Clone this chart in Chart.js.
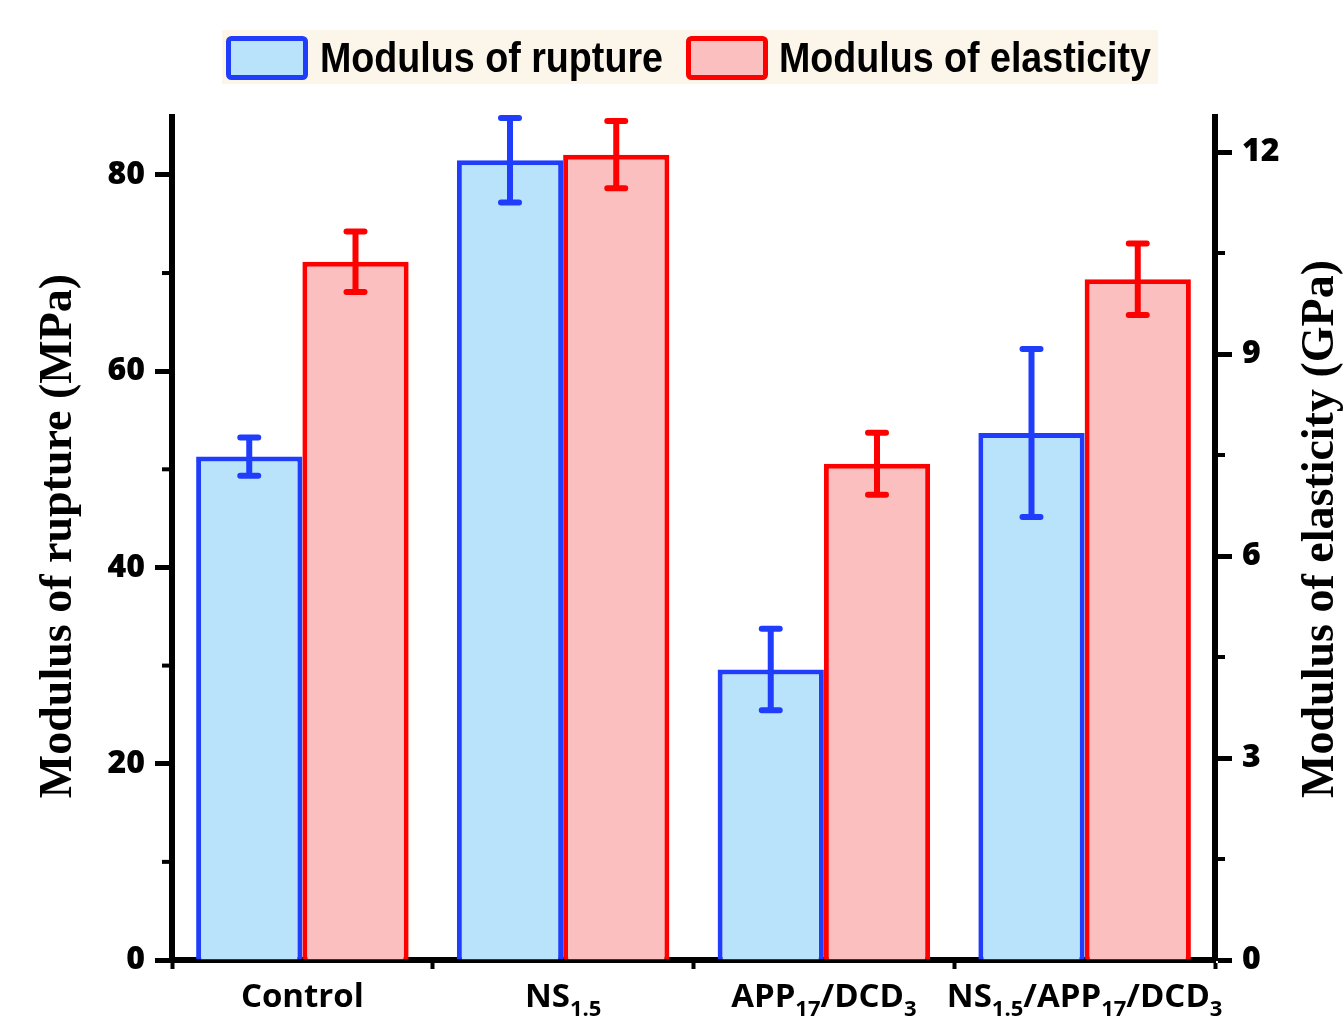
<!DOCTYPE html>
<html><head><meta charset="utf-8">
<script src="https://cdn.jsdelivr.net/npm/chart.js@4.4.0/dist/chart.umd.min.js"></script>
<style>html,body{margin:0;padding:0;background:#fff;overflow:hidden}</style>
</head><body>
<canvas id="c" width="1344" height="1016" style="display:block;width:1344px;height:1016px"></canvas>
<script>
// ---- data ----
const categories = ['Control', 'NS_{1.5}', 'APP_{17}/DCD_{3}', 'NS_{1.5}/APP_{17}/DCD_{3}'];
const seriesNames = ['Modulus of rupture', 'Modulus of elasticity'];
const ruptureValues = [51.3, 81.5, 29.6, 53.7];
const ruptureErrors = [1.95, 4.3, 4.15, 8.55];
const elasticityValues = [10.37, 11.96, 7.37, 10.11];
const elasticityErrors = [0.45, 0.5, 0.46, 0.53];
const leftTicks = [0, 20, 40, 60, 80];
const rightTicks = [0, 3, 6, 9, 12];
const leftTitle = 'Modulus of rupture (MPa)';
const rightTitle = 'Modulus of elasticity (GPa)';

// ---- styles ----
const BLUE = '#1f3dfb', BLUE_FILL = '#b8e3fb';
const RED = '#ff0000', RED_FILL = '#fbbfbf';
const TICK_FONT = { family: 'Open Sans', weight: 800, size: 32 };

function parseLabel(s) {
  const parts = [];
  const re = /_\{([^}]*)\}/g;
  let last = 0, m;
  while ((m = re.exec(s)) !== null) {
    if (m.index > last) parts.push({ t: s.slice(last, m.index), sub: false });
    parts.push({ t: m[1], sub: true });
    last = re.lastIndex;
  }
  if (last < s.length) parts.push({ t: s.slice(last), sub: false });
  return parts;
}

const errorBars = {
  id: 'errorBars',
  afterDatasetsDraw(chart) {
    const ctx = chart.ctx;
    chart.data.datasets.forEach((ds, di) => {
      const meta = chart.getDatasetMeta(di);
      const yScale = chart.scales[ds.yAxisID];
      ctx.save();
      ctx.strokeStyle = ds.borderColor;
      ctx.lineWidth = 6;
      ctx.lineCap = 'round';
      meta.data.forEach((bar, i) => {
        const v = ds.data[i], e = ds.errors[i];
        const yTop = yScale.getPixelForValue(v + e);
        const yBot = yScale.getPixelForValue(v - e);
        const x = bar.x, cw = 9;
        ctx.beginPath();
        ctx.moveTo(x, yTop); ctx.lineTo(x, yBot);
        ctx.moveTo(x - cw, yTop); ctx.lineTo(x + cw, yTop);
        ctx.moveTo(x - cw, yBot); ctx.lineTo(x + cw, yBot);
        ctx.stroke();
      });
      ctx.restore();
    });
  }
};

const decorations = {
  id: 'decorations',
  afterDraw(chart) {
    const ctx = chart.ctx;
    const ca = chart.chartArea;
    const yL = chart.scales.y, yR = chart.scales.y1, x = chart.scales.x;
    ctx.save();
    // minor ticks
    ctx.strokeStyle = '#000';
    ctx.lineWidth = 4;
    for (let i = 0; i < leftTicks.length - 1; i++) {
      const py = yL.getPixelForValue((leftTicks[i] + leftTicks[i + 1]) / 2);
      ctx.beginPath(); ctx.moveTo(ca.left - 10, py); ctx.lineTo(ca.left, py); ctx.stroke();
    }
    for (let i = 0; i < rightTicks.length - 1; i++) {
      const py = yR.getPixelForValue((rightTicks[i] + rightTicks[i + 1]) / 2);
      ctx.beginPath(); ctx.moveTo(ca.right, py); ctx.lineTo(ca.right + 10, py); ctx.stroke();
    }
    // axis titles (both read bottom-to-top)
    ctx.fillStyle = '#000';
    ctx.font = 'bold 46px "Liberation Serif"';
    ctx.textAlign = 'center';
    ctx.textBaseline = 'middle';
    [[59, 536, leftTitle, 540], [1321, 529, rightTitle, 553]].forEach(([tx, ty, txt, mw]) => {
      ctx.save();
      ctx.translate(tx, ty);
      ctx.rotate(-Math.PI / 2);
      ctx.fillText(txt, 0, 0, mw);
      ctx.restore();
    });
    // x labels with subscripts
    const mainFont = 'bold 33px "Open Sans"', subFont = 'bold 22px "Open Sans"';
    ctx.textAlign = 'left';
    ctx.textBaseline = 'alphabetic';
    categories.forEach((lab, i) => {
      const parts = parseLabel(lab);
      let w = 0;
      parts.forEach(p => { ctx.font = p.sub ? subFont : mainFont; p.w = ctx.measureText(p.t).width; w += p.w; });
      let px = x.getPixelForValue(i) - w / 2;
      const base = 1007;
      parts.forEach(p => {
        ctx.font = p.sub ? subFont : mainFont;
        ctx.fillText(p.t, px, p.sub ? base + 9 : base);
        px += p.w;
      });
    });
    // legend
    ctx.fillStyle = '#fcf5e9';
    ctx.fillRect(222, 30, 936, 54);
    const items = [
      { x: 226, tx: 320, tw: 343, stroke: BLUE, fill: BLUE_FILL, label: chart.data.datasets[0].label },
      { x: 686, tx: 779, tw: 372, stroke: RED, fill: RED_FILL, label: chart.data.datasets[1].label }
    ];
    items.forEach(it => {
      ctx.fillStyle = it.fill;
      ctx.strokeStyle = it.stroke;
      ctx.lineWidth = 5;
      ctx.beginPath();
      ctx.roundRect(it.x + 2.5, 38.5, 77, 39, 3);
      ctx.fill(); ctx.stroke();
      ctx.fillStyle = '#000';
      ctx.font = 'bold 43px "Liberation Sans"';
      ctx.textBaseline = 'alphabetic';
      ctx.fillText(it.label, it.tx, 72, it.tw);
    });
    ctx.restore();
  }
};

new Chart(document.getElementById('c'), {
  type: 'bar',
  data: {
    labels: categories,
    datasets: [
      { label: seriesNames[0], data: ruptureValues, errors: ruptureErrors, yAxisID: 'y',
        backgroundColor: BLUE_FILL, borderColor: BLUE, borderWidth: 5 },
      { label: seriesNames[1], data: elasticityValues, errors: elasticityErrors, yAxisID: 'y1',
        backgroundColor: RED_FILL, borderColor: RED, borderWidth: 5 }
    ]
  },
  options: {
    responsive: false,
    animation: false,
    events: [],
    categoryPercentage: 0.815,
    barPercentage: 1.0,
    layout: { padding: { top: 117, left: 0, right: 0, bottom: 0 } },
    plugins: { legend: { display: false }, tooltip: { enabled: false } },
    scales: {
      x: {
        offset: true,
        grid: { display: true, drawOnChartArea: false, drawTicks: true, tickLength: 9, tickWidth: 4, tickColor: '#000', offset: true },
        border: { display: true, color: '#000', width: 6 },
        ticks: { display: false },
        afterFit(s) { s.height = 56; }
      },
      y: {
        position: 'left', min: 0, max: 85.9,
        afterBuildTicks(s) { s.ticks = leftTicks.map(v => ({ value: v })); },
        ticks: { color: '#000', font: TICK_FONT, padding: 10 },
        grid: { drawOnChartArea: false, drawTicks: true, tickLength: 17, tickWidth: 5, tickColor: '#000' },
        border: { display: true, color: '#000', width: 6 },
        title: { display: false },
        afterFit(s) { s.width = 172; }
      },
      y1: {
        position: 'right', min: 0, max: 12.52,
        afterBuildTicks(s) { s.ticks = rightTicks.map(v => ({ value: v })); },
        ticks: { color: '#000', font: TICK_FONT, padding: 10 },
        grid: { drawOnChartArea: false, drawTicks: true, tickLength: 17, tickWidth: 5, tickColor: '#000' },
        border: { display: true, color: '#000', width: 6 },
        title: { display: false },
        afterFit(s) { s.width = 129; }
      }
    }
  },
  plugins: [errorBars, decorations]
});
</script>
</body></html>
